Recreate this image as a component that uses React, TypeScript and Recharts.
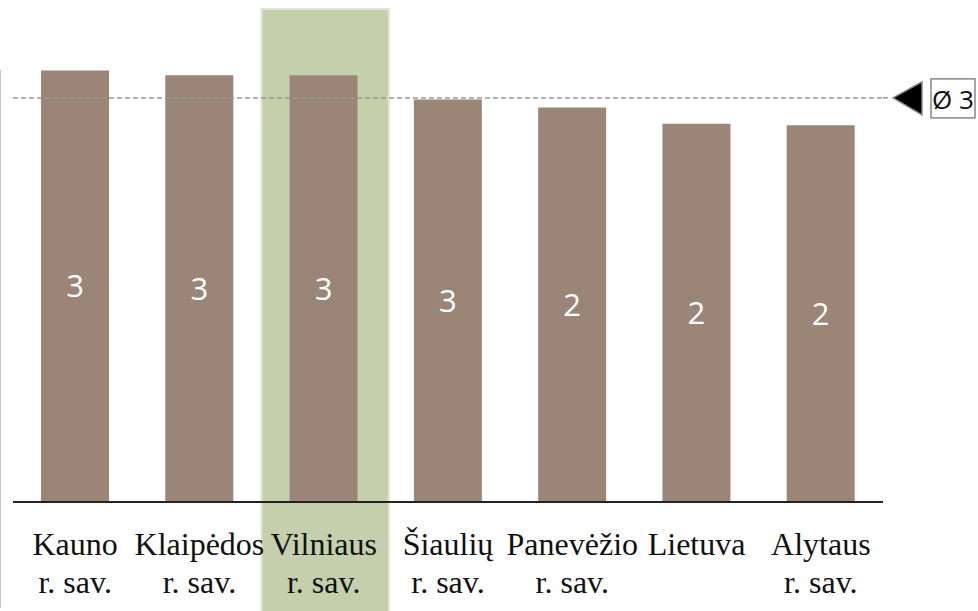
import React from "react";
import {
  BarChart,
  Bar,
  XAxis,
  YAxis,
  LabelList,
  ReferenceLine,
  ReferenceArea,
} from "recharts";

const regions = [
  "Kauno r. sav.",
  "Klaipėdos r. sav.",
  "Vilniaus r. sav.",
  "Šiaulių r. sav.",
  "Panevėžio r. sav.",
  "Lietuva",
  "Alytaus r. sav.",
];
const scores = [2.68, 2.65, 2.65, 2.5, 2.45, 2.35, 2.34];
const average = 2.51;
const highlighted = "Vilniaus r. sav.";

const data = regions.map((name, i) => ({ name, score: scores[i] }));

const BAR = "#9b8577";
const SERIF = "'Liberation Serif', serif";
const SANS = "'Open Sans', sans-serif";

// split "Xxx r. sav." into two lines
const CategoryTick = ({ x, y, payload }: any) => {
  const txt: string = payload.value;
  const idx = txt.indexOf(" r. sav.");
  const lines = idx >= 0 ? [txt.slice(0, idx), "r. sav."] : [txt];
  return (
    <text x={x} y={y} textAnchor="middle" fontFamily={SERIF} fontSize={32} fill="#111">
      {lines.map((l, i) => (
        <tspan key={i} x={x} dy={i === 0 ? 53 : 38}>
          {l}
        </tspan>
      ))}
    </text>
  );
};

const AvgMarker = (props: any) => {
  const vb = props.viewBox || {};
  const x = vb.x + vb.width;
  const y = vb.y;
  return (
    <g>
      <line x1={x} x2={x + 8} y1={y} y2={y} stroke="#999" strokeWidth={1.5} strokeDasharray="5 3" />
      <polygon
        points={`${x + 10},${y} ${x + 39},${y - 16} ${x + 39},${y + 17}`}
        fill="#000"
        stroke="#888"
        strokeWidth={1.5}
      />
      <rect x={x + 48} y={y - 19} width={44} height={39} fill="#fff" stroke="#888" strokeWidth={1.5} />
      <text x={x + 70} y={y + 11} textAnchor="middle" fontFamily={SANS} fontSize={26} fill="#111">
        Ø {Math.round(average)}
      </text>
    </g>
  );
};

const Highlight = (props: any) => (
  <rect
    x={props.x}
    y={9}
    width={props.width + 3}
    height={610}
    fill="#c4d0ab"
    stroke="#dfe6d3"
    strokeWidth={2}
  />
);

export default function App() {
  return (
    <div style={{ position: "absolute", left: 0, top: 0, width: 978, height: 611, background: "#fff" }}>
      <div style={{ position: "absolute", left: 0, top: 70, width: 1, height: 538, background: "#c8c8c8" }} />
      <BarChart
        width={978}
        height={611}
        data={data}
        margin={{ top: 19, right: 95, left: 13, bottom: 0 }}
      >
        <ReferenceArea
          x1={highlighted}
          x2={highlighted}
          ifOverflow="visible"
          shape={<Highlight />}
        />
        <XAxis
          dataKey="name"
          height={109}
          interval={0}
          tickLine={false}
          tickSize={0}
          tickMargin={0}
          axisLine={{ stroke: "#222", strokeWidth: 2 }}
          tick={<CategoryTick />}
        />
        <YAxis hide domain={[0, 3]} />
        <Bar dataKey="score" fill={BAR} barSize={68} isAnimationActive={false}>
          <LabelList
            dataKey="score"
            position="center"
            fill="#fff"
            fontFamily={SANS}
            fontSize={31}
            formatter={(v: any) => Math.round(Number(v))}
          />
        </Bar>
        <ReferenceLine
          y={average}
          stroke="#999"
          strokeWidth={1.5}
          strokeDasharray="5 3"
          ifOverflow="visible"
          label={<AvgMarker />}
        />
      </BarChart>
    </div>
  );
}
